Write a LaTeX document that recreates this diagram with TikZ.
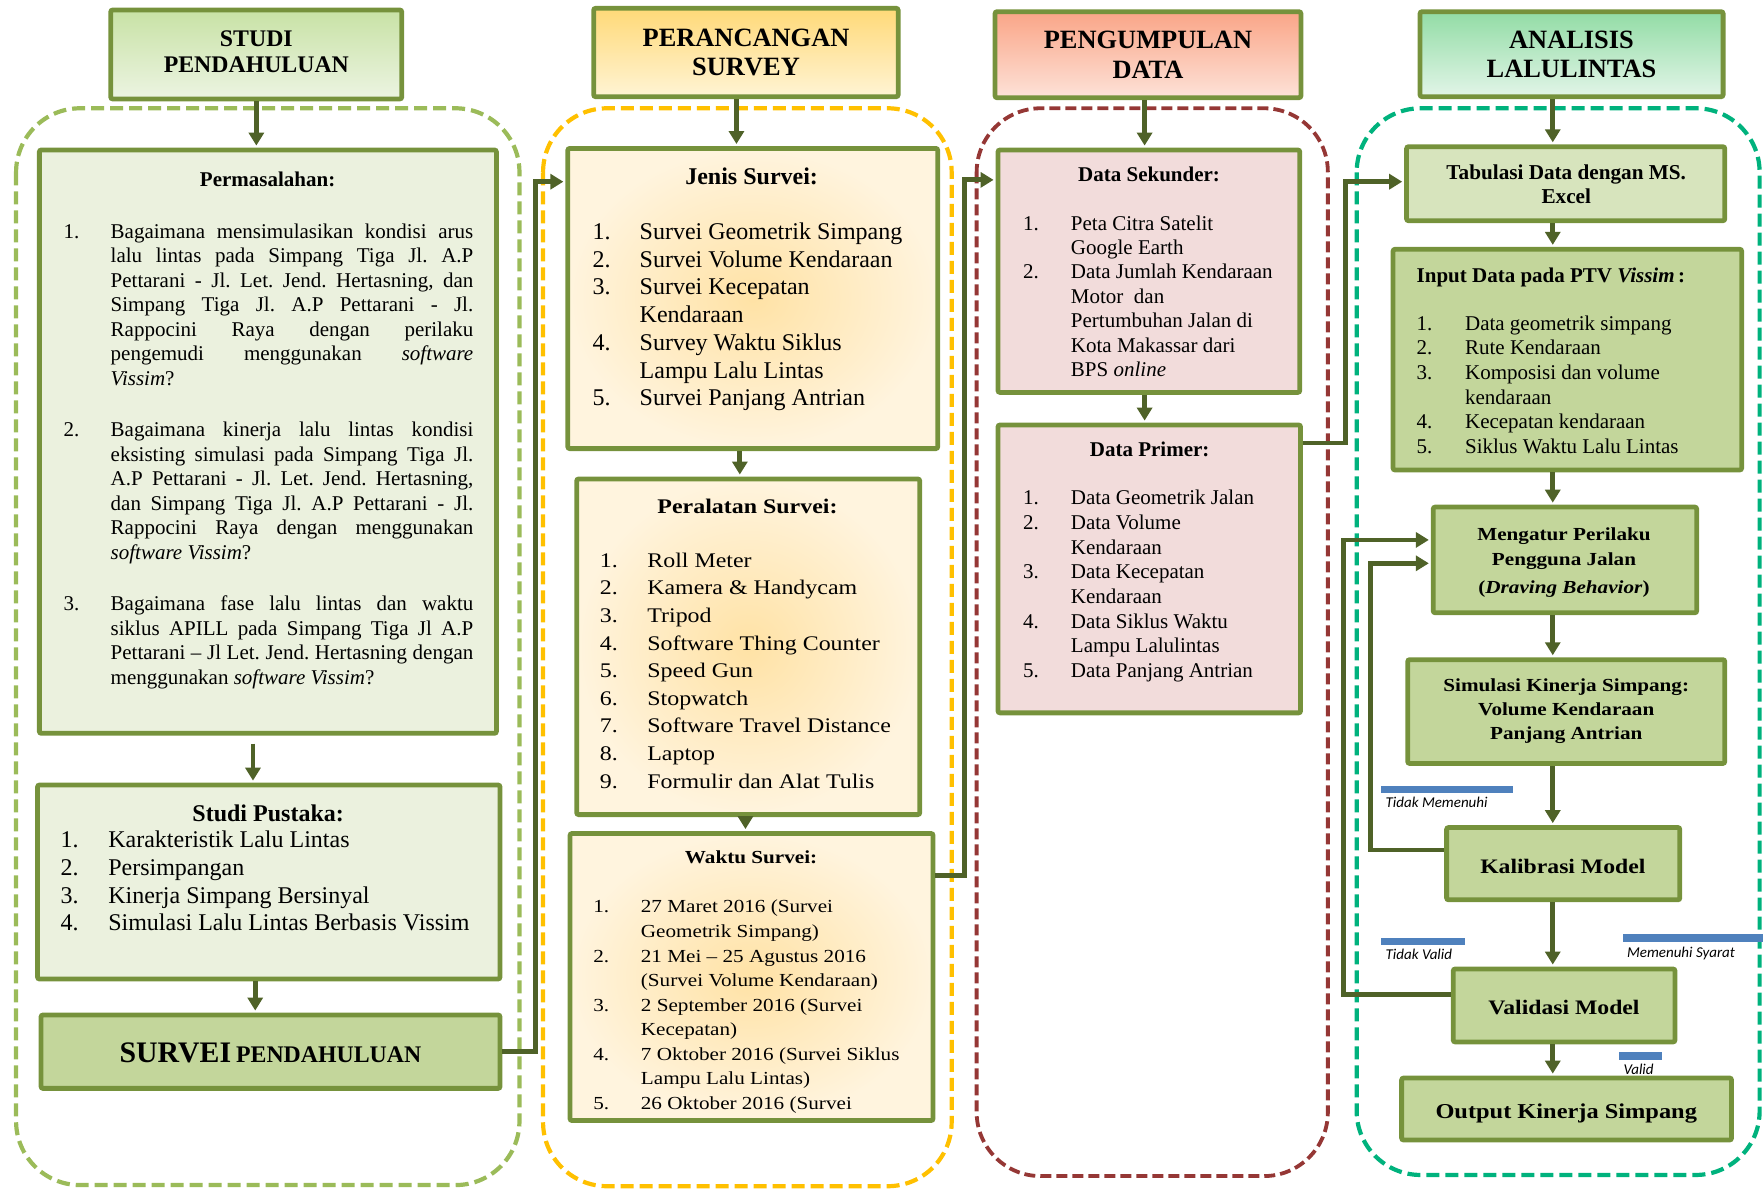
\documentclass[tikz,border=0pt]{standalone}
\usepackage{fontspec}
\setmainfont{Liberation Serif}
\newfontfamily\widefont[FakeStretch=1.15]{Liberation Serif}
\newfontfamily\calibfont{Carlito}
\usetikzlibrary{arrows.meta,calc,fit}
\definecolor{boxc}{RGB}{118,146,60}
\definecolor{arrc}{RGB}{79,98,40}
\definecolor{gA}{RGB}{235,241,222}
\definecolor{gB}{RGB}{195,214,155}
\definecolor{gC}{RGB}{215,228,189}
\definecolor{hAt}{RGB}{200,226,165}
\definecolor{hAb}{RGB}{236,244,226}
\definecolor{hBt}{RGB}{255,217,120}
\definecolor{hBb}{RGB}{255,244,212}
\definecolor{hCt}{RGB}{250,165,135}
\definecolor{hCb}{RGB}{253,226,216}
\definecolor{hDt}{RGB}{146,220,165}
\definecolor{hDb}{RGB}{226,245,232}
\definecolor{peachIn}{RGB}{255,226,165}
\definecolor{peachOut}{RGB}{255,244,222}
\definecolor{pinkF}{RGB}{242,220,219}
\definecolor{dGreen}{RGB}{155,187,89}
\definecolor{dOrange}{RGB}{255,192,0}
\definecolor{dRed}{RGB}{149,55,53}
\definecolor{dTeal}{RGB}{0,178,125}
\definecolor{barBlue}{RGB}{79,129,189}
\newcommand\J[1]{\makebox[181.3pt][s]{#1}}
\frenchspacing
\begin{document}
\begin{tikzpicture}[x=0.5622pt,y=-0.5622pt,
  box/.style={draw=boxc,line width=2.4pt,rounded corners=1pt,inner sep=0pt},
  arr/.style={draw=arrc,line width=2.4pt,shorten >=1pt,-{Triangle[width=7.5pt,length=6.5pt]}},
  txt/.style={inner sep=0pt,outer sep=0pt},
  cont/.style={line width=2.1pt,rounded corners=32pt,dash pattern=on 6.5pt off 3pt},
  lab/.style={inner sep=0pt,font=\calibfont\itshape\fontsize{7.5pt}{9pt}\selectfont},
  bar/.style={fill=barBlue,draw=none}
]
\useasboundingbox (0,0) rectangle (1568,1057);
\clip (0,0) rectangle (1568,1057);

% containers
\draw[cont,draw=dGreen] (14.3,96.3) rectangle (462,1054);
\draw[cont,draw=dOrange] (483,96.3) rectangle (846.4,1055);
\draw[cont,draw=dRed,dash pattern=on 5.5pt off 2.5pt,line width=1.9pt] (868.6,96.3) rectangle (1181,1046);
\draw[cont,draw=dTeal] (1206.6,96.3) rectangle (1565,1045);

% labels with bars
\fill[bar] (1228,698.7) rectangle (1345.3,705.2);
\fill[bar] (1228,834) rectangle (1303,840.5);
\fill[bar] (1443.7,831) rectangle (1570,837.7);
\fill[bar] (1440,936) rectangle (1477.8,942.7);
\node[lab,anchor=base west] (l1) at (1232,718) {Tidak Memenuhi};
\node[lab,anchor=base west] (l2) at (1232,853) {Tidak Valid};
\node[lab,anchor=base west] (l3) at (1446.7,851.5) {Memenuhi Syarat};
\node[lab,anchor=base west] (l4) at (1443.6,956) {Valid};

% boxes column 1
\node[box,top color=hAt,bottom color=hAb,fit={(98.5,8.9)(357.3,88)}] (h1) {};
\node[box,fill=gA,fit={(35,133.4)(441.5,652.2)}] (perm) {};
\node[box,fill=gA,fit={(33.4,698.2)(444.7,870.7)}] (studi) {};
\node[box,fill=gB,fit={(36.5,902.7)(444.7,968)}] (survei) {};
% column 2
\node[box,top color=hBt,bottom color=hBb,fit={(528,7.4)(798.8,86)}] (h2) {};
\node[box,inner color=peachIn,outer color=peachOut,fit={(505,132)(834,399)}] (jenis) {};
\node[box,inner color=peachIn,outer color=peachOut,fit={(512.9,426)(818,724.5)}] (alat) {};
\node[box,inner color=peachIn,outer color=peachOut,fit={(507,741.3)(829.8,996.6)}] (waktu) {};
% column 3
\node[box,top color=hCt,bottom color=hCb,fit={(885,10.4)(1157,86.9)}] (h3) {};
\node[box,fill=pinkF,fit={(887.6,133.4)(1156,349)}] (sek) {};
\node[box,fill=pinkF,fit={(887.6,378)(1156.7,634)}] (prim) {};
% column 4
\node[box,top color=hDt,bottom color=hDb,fit={(1263,10.4)(1532.5,86)}] (h4) {};
\node[box,fill=gC,fit={(1251,130.5)(1534,196.3)}] (tab) {};
\node[box,fill=gB,fit={(1239,221.7)(1549,418)}] (inp) {};
\node[box,fill=gB,fit={(1274.7,451)(1509,545)}] (meng) {};
\node[box,fill=gB,fit={(1252,586.7)(1534,679)}] (sim) {};
\node[box,fill=gB,fit={(1286.6,736)(1494,800.3)}] (kal) {};
\node[box,fill=gB,fit={(1292.5,861.8)(1489.7,926.7)}] (val) {};
\node[box,fill=gB,fit={(1246.6,958.8)(1540,1013.9)}] (out) {};

% header texts
\node[txt,anchor=base] (h1t) at (228,41) {\parbox[t]{240pt}{\centering\bfseries\fontsize{11.9pt}{13.4pt}\selectfont STUDI\\PENDAHULUAN}};
\node[txt,anchor=base] (h2t) at (663.5,41.7) {\parbox[t]{240pt}{\centering\bfseries\fontsize{13.2pt}{14.2pt}\selectfont PERANCANGAN\\SURVEY}};
\node[txt,anchor=base] (h3t) at (1021,43.3) {\parbox[t]{240pt}{\centering\bfseries\fontsize{13.2pt}{14.9pt}\selectfont PENGUMPULAN\\DATA}};
\node[txt,anchor=base] (h4t) at (1397.7,43.3) {\parbox[t]{240pt}{\centering\bfseries\fontsize{13.2pt}{14.2pt}\selectfont ANALISIS\\LALULINTAS}};

% column 1 texts
\node[txt,anchor=base] (permT) at (238,166) {\bfseries\fontsize{10.5pt}{12.26pt}\selectfont Permasalahan:};
\node[txt,anchor=base west] (permL) at (56.5,212) {\fontsize{10.5pt}{12.26pt}\selectfont
\begin{tabular}[t]{@{}p{23.6pt}@{}l@{}}
1. & \J{Bagaimana mensimulasikan kondisi arus}\\
 & \J{lalu lintas pada Simpang Tiga Jl. A.P}\\
 & \J{Pettarani - Jl. Let. Jend. Hertasning, dan}\\
 & \J{Simpang Tiga Jl. A.P Pettarani - Jl.}\\
 & \J{Rappocini Raya dengan perilaku}\\
 & \J{pengemudi menggunakan \textit{software}}\\
 & \textit{Vissim}?\\[13.4pt]
2. & \J{Bagaimana kinerja lalu lintas kondisi}\\
 & \J{eksisting simulasi pada Simpang Tiga Jl.}\\
 & \J{A.P Pettarani - Jl. Let. Jend. Hertasning,}\\
 & \J{dan Simpang Tiga Jl. A.P Pettarani - Jl.}\\
 & \J{Rappocini Raya dengan menggunakan}\\
 & \textit{software Vissim}?\\[13.4pt]
3. & \J{Bagaimana fase lalu lintas dan waktu}\\
 & \J{siklus APILL pada Simpang Tiga Jl A.P}\\
 & \J{Pettarani – Jl Let. Jend. Hertasning dengan}\\
 & menggunakan \textit{software Vissim}?
\end{tabular}};
\node[txt,anchor=base] (studiT) at (238.5,730.5) {\bfseries\fontsize{12pt}{13.87pt}\selectfont Studi Pustaka:};
\node[txt,anchor=base west] (studiL) at (54,754) {\fontsize{12pt}{13.87pt}\selectfont
\begin{tabular}[t]{@{}p{23.8pt}@{}l@{}}
1. & Karakteristik Lalu Lintas\\
2. & Persimpangan\\
3. & Kinerja Simpang Bersinyal\\
4. & Simulasi Lalu Lintas Berbasis Vissim
\end{tabular}};
\node[txt,anchor=base] (surveiT) at (240.5,945) {\bfseries{\fontsize{14.9pt}{16pt}\selectfont SURVEI} {\fontsize{11.9pt}{14pt}\selectfont PENDAHULUAN}};

% column 2 texts
\node[txt,anchor=base] (jenisT) at (668.5,164) {\bfseries\fontsize{12pt}{13.87pt}\selectfont Jenis Survei:};
\node[txt,anchor=base west] (jenisL) at (527,213) {\fontsize{12pt}{13.87pt}\selectfont
\begin{tabular}[t]{@{}p{23.6pt}@{}l@{}}
1. & Survei Geometrik Simpang\\
2. & Survei Volume Kendaraan\\
3. & Survei Kecepatan\\
 & Kendaraan\\
4. & Survey Waktu Siklus\\
 & Lampu Lalu Lintas\\
5. & Survei Panjang Antrian
\end{tabular}};
\node[txt,anchor=base] (alatT) at (664.8,456.5) {\widefont\bfseries\fontsize{10.4pt}{13.8pt}\selectfont Peralatan Survei:};
\node[txt,anchor=base west] (alatL) at (533.6,504.6) {\widefont\fontsize{10.4pt}{13.8pt}\selectfont
\begin{tabular}[t]{@{}p{23.7pt}@{}l@{}}
1. & Roll Meter\\
2. & Kamera \& Handycam\\
3. & Tripod\\
4. & Software Thing Counter\\
5. & Speed Gun\\
6. & Stopwatch\\
7. & Software Travel Distance\\
8. & Laptop\\
9. & Formulir dan Alat Tulis
\end{tabular}};
\node[txt,anchor=base] (waktuT) at (668,768) {\widefont\bfseries\fontsize{9.2pt}{12.26pt}\selectfont Waktu Survei:};
\node[txt,anchor=base west] (waktuL) at (527.7,812) {\widefont\fontsize{9.2pt}{12.26pt}\selectfont
\begin{tabular}[t]{@{}p{23.8pt}@{}l@{}}
1. & 27 Maret 2016 (Survei\\
 & Geometrik Simpang)\\
2. & 21 Mei – 25 Agustus 2016\\
 & (Survei Volume Kendaraan)\\
3. & 2 September 2016 (Survei\\
 & Kecepatan)\\
4. & 7 Oktober 2016 (Survei Siklus\\
 & Lampu Lalu Lintas)\\
5. & 26 Oktober 2016 (Survei
\end{tabular}};

% column 3 texts
\node[txt,anchor=base] (sekT) at (1022,161.6) {\bfseries\fontsize{10.5pt}{12.2pt}\selectfont Data Sekunder:};
\node[txt,anchor=base west] (sekL) at (910,204.6) {\fontsize{10.5pt}{12.2pt}\selectfont
\begin{tabular}[t]{@{}p{23.9pt}@{}l@{}}
1. & Peta Citra Satelit\\
 & Google Earth\\
2. & Data Jumlah Kendaraan\\
 & Motor\ \ dan\\
 & Pertumbuhan Jalan di\\
 & Kota Makassar dari\\
 & BPS \textit{online}
\end{tabular}};
\node[txt,anchor=base] (primT) at (1022.5,406) {\bfseries\fontsize{10.5pt}{12.33pt}\selectfont Data Primer:};
\node[txt,anchor=base west] (primL) at (910,449) {\fontsize{10.5pt}{12.33pt}\selectfont
\begin{tabular}[t]{@{}p{23.9pt}@{}l@{}}
1. & Data Geometrik Jalan\\
2. & Data Volume\\
 & Kendaraan\\
3. & Data Kecepatan\\
 & Kendaraan\\
4. & Data Siklus Waktu\\
 & Lampu Lalulintas\\
5. & Data Panjang Antrian
\end{tabular}};

% column 4 texts
\node[txt,anchor=base] (tabT) at (1393,160) {\parbox[t]{150pt}{\centering\bfseries\fontsize{10.6pt}{11.8pt}\selectfont Tabulasi Data dengan MS.\\Excel}};
\node[txt,anchor=base west] (inpT) at (1260,251.5) {\bfseries\fontsize{10.5pt}{12.33pt}\selectfont Input Data pada PTV \textit{Vissim}\,:};
\node[txt,anchor=base west] (inpL) at (1260,293.6) {\fontsize{10.5pt}{12.33pt}\selectfont
\begin{tabular}[t]{@{}p{24.2pt}@{}l@{}}
1. & Data geometrik simpang\\
2. & Rute Kendaraan\\
3. & Komposisi dan volume\\
 & kendaraan\\
4. & Kecepatan kendaraan\\
5. & Siklus Waktu Lalu Lintas
\end{tabular}};
\node[txt,anchor=base] (mengT) at (1391,480.5) {\parbox[t]{150pt}{\centering\widefont\bfseries\fontsize{9.2pt}{12.4pt}\selectfont Mengatur Perilaku\\Pengguna Jalan\\[1.7pt](\textit{Draving Behavior})}};
\node[txt,anchor=base] (simT) at (1393,615) {\parbox[t]{160pt}{\centering\widefont\bfseries\fontsize{9.2pt}{12.06pt}\selectfont Simulasi Kinerja Simpang:\\Volume Kendaraan\\Panjang Antrian}};
\node[txt,anchor=base] (kalT) at (1390,776.5) {\widefont\bfseries\fontsize{10.3pt}{12pt}\selectfont Kalibrasi Model};
\node[txt,anchor=base] (valT) at (1391,902.3) {\widefont\bfseries\fontsize{10.3pt}{12pt}\selectfont Validasi Model};
\node[txt,anchor=base] (outT) at (1393,994.5) {\widefont\bfseries\fontsize{10.6pt}{12pt}\selectfont Output Kinerja Simpang};

% connectors
\coordinate (ax1) at (228,0);
\coordinate (ax2) at (225,0);
\coordinate (ax3) at (227,0);
\draw[arr] (h1.south -| ax1) -- (perm.north -| ax1);
\draw[arr,shorten <=4pt] (perm.south -| ax2) -- (studi.north -| ax2);
\draw[arr] (studi.south -| ax3) -- (survei.north -| ax3);
\coordinate (k1) at (476,161.6);
\draw[arr] (survei.east) -| (k1) -- (k1 -| jenis.west);

\coordinate (bx1) at (655,0);
\coordinate (bx2) at (658,0);
\coordinate (bx3) at (663,0);
\draw[arr] (h2.south -| bx1) -- (jenis.north -| bx1);
\draw[arr] (jenis.south -| bx2) -- (alat.north -| bx2);
\draw[arr] (alat.south -| bx3) -- (waktu.north -| bx3);
\coordinate (k2a) at (858,779);
\coordinate (k2b) at (858,160);
\draw[arr] (waktu.east |- k2a) -- (k2a) -- (k2b) -- (k2b -| sek.west);

\coordinate (cx) at (1018,0);
\draw[arr] (h3.south -| cx) -- (sek.north -| cx);
\draw[arr] (sek.south -| cx) -- (prim.north -| cx);
\coordinate (k3a) at (1197,394);
\coordinate (k3b) at (1197,161.6);
\draw[arr] (prim.east |- k3a) -- (k3a) -- (k3b) -- (k3b -| tab.west);

\coordinate (dx) at (1381,0);
\draw[arr] (h4.south -| dx) -- (tab.north -| dx);
\draw[arr] (tab.south -| dx) -- (inp.north -| dx);
\draw[arr] (inp.south -| dx) -- (meng.north -| dx);
\draw[arr] (meng.south -| dx) -- (sim.north -| dx);
\draw[arr] (sim.south -| dx) -- (kal.north -| dx);
\draw[arr] (kal.south -| dx) -- (val.north -| dx);
\draw[arr] (val.south -| dx) -- (out.north -| dx);

\coordinate (k4a) at (1219,756);
\coordinate (k4b) at (1219,501);
\draw[arr] (kal.west |- k4a) -- (k4a) -- (k4b) -- (k4b -| meng.west);
\coordinate (k5a) at (1195,884.6);
\coordinate (k5b) at (1195,480.2);
\draw[arr] (val.west |- k5a) -- (k5a) -- (k5b) -- (k5b -| meng.west);
\end{tikzpicture}
\end{document}
